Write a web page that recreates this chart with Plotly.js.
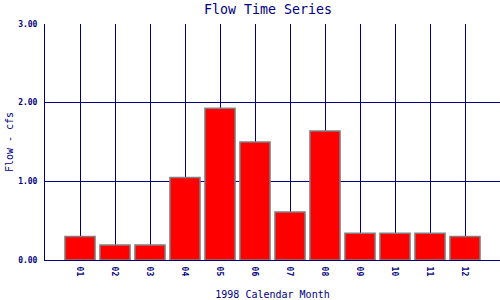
<!DOCTYPE html>
<html>
<head>
<meta charset="utf-8">
<script src="https://cdn.plot.ly/plotly-3.0.1.min.js"></script>
<style>html,body{margin:0;padding:0;background:#fff;}#chart{width:500px;height:300px;}</style>
</head>
<body>
<div id="chart"></div>
<script>
const months = ["01","02","03","04","05","06","07","08","09","10","11","12"];
const flow = [0.30, 0.19, 0.19, 1.05, 1.93, 1.50, 0.61, 1.64, 0.34, 0.34, 0.34, 0.30];
const yTicks = [0, 1, 2, 3];
const yTickText = ["0.00", "1.00", "2.00", "3.00"];

const navy = "#000080";
const mono = "DejaVu Sans Mono, monospace";

const trace = {
  type: "bar",
  x: months,
  y: flow,
  width: 0.86,
  marker: { color: "#ff0000", line: { color: "#808080", width: 1.5 } },
  hoverinfo: "none"
};

const layout = {
  width: 500, height: 300,
  margin: { l: 45, r: 0, t: 24, b: 40 },
  paper_bgcolor: "#ffffff",
  plot_bgcolor: "#ffffff",
  showlegend: false,
  title: { text: "Flow Time Series", font: { family: mono, size: 13.3, color: navy }, x: 0.536, xanchor: "center", y: 0.97, yanchor: "middle" },
  xaxis: {
    type: "category",
    range: [-1, 12],
    tickangle: 90,
    tickfont: { family: mono, size: 8, color: navy, weight: "bold" },
    showgrid: true, gridcolor: navy, gridwidth: 1,
    showline: true, linecolor: navy, linewidth: 1,
    ticks: "outside", ticklen: 4, tickcolor: "rgba(0,0,0,0)",
    title: { text: "1998 Calendar Month", font: { family: mono, size: 10, color: navy }, standoff: 16 },
    fixedrange: true
  },
  yaxis: {
    range: [0, 3],
    tickvals: yTicks,
    ticktext: yTickText,
    tickfont: { family: mono, size: 8, color: navy, weight: "bold" },
    showgrid: true, gridcolor: navy, gridwidth: 1,
    showline: true, linecolor: navy, linewidth: 1,
    zeroline: false,
    ticks: "outside", ticklen: 5, tickcolor: "rgba(0,0,0,0)",
    title: { text: "Flow - cfs", font: { family: mono, size: 10, color: navy }, standoff: 2 },
    fixedrange: true
  }
};

Plotly.newPlot("chart", [trace], layout, { staticPlot: true, displayModeBar: false });
</script>
</body>
</html>
